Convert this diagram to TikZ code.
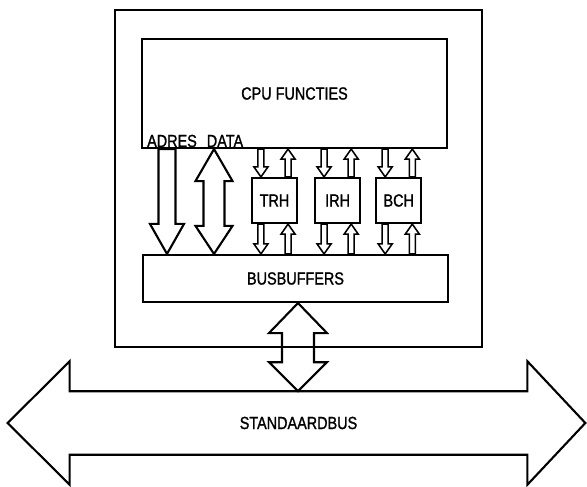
\documentclass[tikz,border=0pt]{standalone}
\usepackage{fontspec}
\setmainfont{Liberation Sans}[FakeStretch=0.82, FakeBold=1.2]
\usetikzlibrary{calc, positioning}

% block arrows: style, start, end, shaft half width, head half width, head length(s)
\newcommand{\blkdown}[6]{%
  \draw[#1] ($(#2)+(-#4,0)$) -- ($(#2)+(#4,0)$) -- ($(#3)+(#4,-#6)$) -- ($(#3)+(#5,-#6)$) -- (#3) -- ($(#3)+(-#5,-#6)$) -- ($(#3)+(-#4,-#6)$) -- cycle;}
\newcommand{\blkup}[6]{%
  \draw[#1] (#2) -- ($(#2)+(#5,#6)$) -- ($(#2)+(#4,#6)$) -- ($(#3)+(#4,0)$) -- ($(#3)+(-#4,0)$) -- ($(#2)+(-#4,#6)$) -- ($(#2)+(-#5,#6)$) -- cycle;}
\newcommand{\blkboth}[7]{%
  \draw[#1] (#2) -- ($(#2)+(#5,#6)$) -- ($(#2)+(#4,#6)$) -- ($(#3)+(#4,-#7)$) -- ($(#3)+(#5,-#7)$) -- (#3) -- ($(#3)+(-#5,-#7)$) -- ($(#3)+(-#4,-#7)$) -- ($(#2)+(-#4,#6)$) -- ($(#2)+(-#5,#6)$) -- cycle;}

\begin{document}
\begin{tikzpicture}[
    x=0.025cm, y=-0.025cm,
    box/.style={rectangle, draw, line width=1.5pt, inner sep=0pt, font=\fontsize{12.5}{15}\selectfont},
    lbl/.style={inner sep=0pt, font=\fontsize{12.5}{15}\selectfont},
    blk/.style={line width=1.5pt},
    thin blk/.style={line width=1.1pt}
]
\useasboundingbox (0,0) rectangle (587,487);

% Define nodes
\node[box, minimum width=9.175cm, minimum height=8.425cm] (frame) at (298.5,178.5) {};
\node[box, minimum width=7.625cm, minimum height=2.725cm] (cpu) at (294.5,93.5) {CPU FUNCTIES};
\node[box, minimum width=7.625cm, minimum height=1.175cm] (buf) at (295.5,278.5) {BUSBUFFERS};
\node[box, minimum size=1.125cm] (trh) at (274.5,200.5) {TRH};
\node[box, minimum size=1.125cm, right=0.4cm of trh] (irh) {IRH};
\node[box, minimum size=1.125cm, right=0.35cm of irh] (bch) {BCH};
\node[lbl, anchor=base west] (adres) at ($(cpu.south west)+(6,-2)$) {ADRES\hspace{0.25cm}DATA};
\node[lbl, minimum width=11.425cm, minimum height=1.575cm] (sbus) at (298.5,423) {STANDAARDBUS};

\coordinate (xadr) at (167,0);
\coordinate (xdat) at (214,0);
\coordinate (xsys) at (298,0);

% Define arrows
% address (down) and data (both ways)
\blkdown{blk}{cpu.south -| xadr}{buf.north -| xadr}{8.5}{17}{30}
\blkboth{blk}{cpu.south -| xdat}{buf.north -| xdat}{10.5}{18.5}{32}{28}

% small arrows round the three registers
\foreach \b in {trh,irh,bch} {
  \coordinate (L\b) at ($(\b.north west)+(10,0)$);
  \coordinate (R\b) at ($(\b.north east)+(-10,0)$);
  \blkdown{thin blk}{cpu.south -| L\b}{\b.north -| L\b}{3}{7}{10}
  \blkup{thin blk}{cpu.south -| R\b}{\b.north -| R\b}{3}{7}{10}
  \blkdown{thin blk}{\b.south -| L\b}{buf.north -| L\b}{3}{7}{10}
  \blkup{thin blk}{\b.south -| R\b}{buf.north -| R\b}{3}{7}{10}
}

% busbuffers <-> standaardbus
\blkboth{blk}{buf.south -| xsys}{sbus.north -| xsys}{16}{29}{30}{29}

% standaardbus
\draw[blk] (sbus.north west) -- ($(sbus.north west)+(0,-30)$) -- ($(sbus.west)+(-62,0)$) -- ($(sbus.south west)+(0,30)$) -- (sbus.south west)
  -- (sbus.south east) -- ($(sbus.south east)+(0,30)$) -- ($(sbus.east)+(58,0)$) -- ($(sbus.north east)+(0,-30)$) -- (sbus.north east) -- cycle;

\end{tikzpicture}
\end{document}
